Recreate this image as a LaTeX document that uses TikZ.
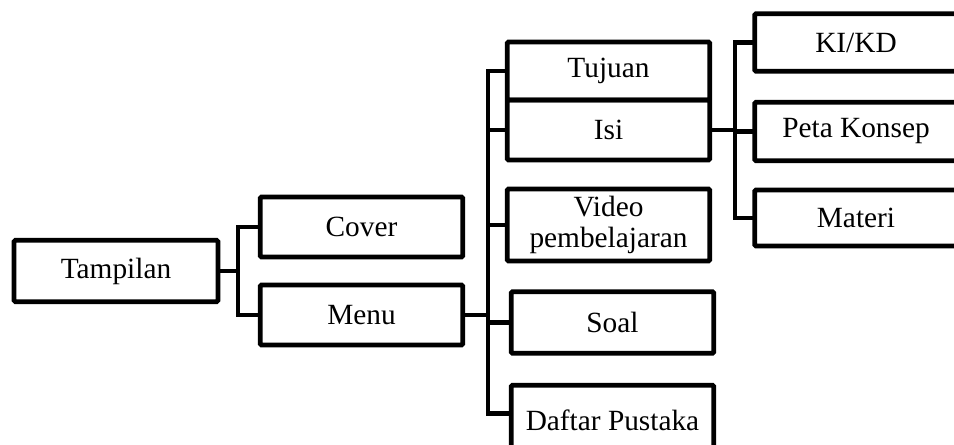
\documentclass[tikz,border=0pt]{standalone}
\usepackage{fontspec}
\setmainfont{Liberation Serif}
\usetikzlibrary{positioning}

\begin{document}
\begin{tikzpicture}[x=0.75pt,y=-0.75pt,
	box/.style={draw,line width=3.6pt,rounded corners=1pt,
		minimum width=152pt,minimum height=45pt,align=center,
		inner sep=2pt,font=\fontsize{22}{23.5}\selectfont},
	link/.style={line width=3.6pt,line cap=rect}]
	\useasboundingbox (0,0) rectangle (954,445);
	\clip (0,0) rectangle (954,445);

	\node[box,minimum width=153pt,minimum height=46pt] (T) at (116,271) {Tampilan};
	\node[box] (C) at (361.5,227) {Cover};
	\node[box] (M) at (361.5,315) {Menu};

	\node[box,minimum height=43.5pt] (Tu) at (608.5,71) {Tujuan};
	\node[box] (I) at (608.5,130) {Isi};
	\node[box,minimum height=54pt] (V) at (608.5,225) {Video\\pembelajaran};
	\node[box,minimum height=46pt] (S) at (612.5,322.5) {Soal};
	\node[box,minimum height=52pt] (D) at (612.5,420) {Daftar Pustaka};

	\node[box,minimum height=43pt] (K) at (856,42.5) {KI/KD};
	\node[box,minimum height=44pt] (P) at (856,131.5) {Peta Konsep};
	\node[box,minimum height=42pt] (Ma) at (856,218) {Materi};

	\coordinate (j1) at (238,271);
	\coordinate (j2) at (488,315);
	\coordinate (j3) at (735,130);

	% tampilan
	\draw[link] (T.east) -- (j1);
	\draw[link] (C.west) -| (j1) |- (M.west);
	% menu
	\draw[link] (M.east) -- (j2);
	\draw[link] (Tu.west) -| (j2) |- ([yshift=5pt]D.west);
	\draw[link] (j2) |- (I.west);
	\draw[link] (j2) |- (V.west);
	\draw[link] (j2) |- (S.west);
	% isi
	\draw[link] (I.east) -- (j3);
	\draw[link] (K.west) -| (j3) |- (Ma.west);
	\draw[link] (j3) |- (P.west);
\end{tikzpicture}
\end{document}
